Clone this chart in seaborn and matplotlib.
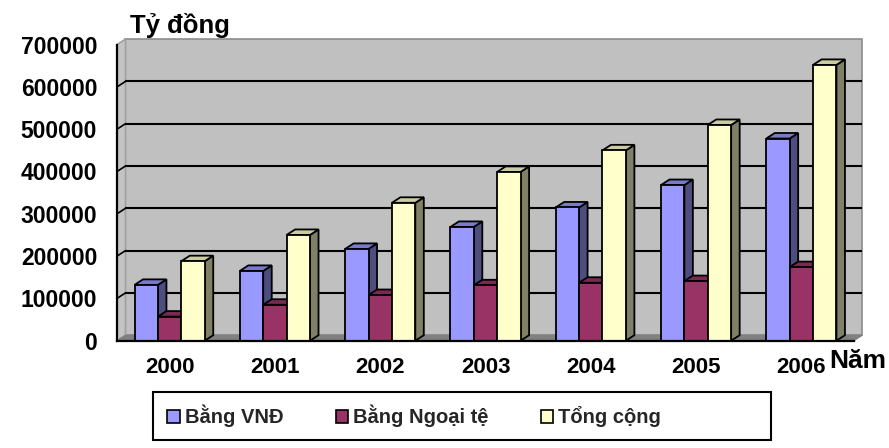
import numpy as np
import pandas as pd
import matplotlib
matplotlib.use("Agg")
import matplotlib.pyplot as plt
import matplotlib.colors as mcolors
from matplotlib.patches import Polygon, Patch, Rectangle
import seaborn as sns

# Dư nợ tín dụng theo loại tiền (tỷ đồng)
years = ["2000", "2001", "2002", "2003", "2004", "2005", "2006"]
vnd = [132000, 165000, 217000, 269000, 315000, 368000, 478000]
ngoai_te = [57000, 85000, 108000, 131000, 137000, 141000, 174000]
tong_cong = [188000, 250000, 326000, 399000, 450000, 510000, 652000]
series_names = ["Bằng VNĐ", "Bằng Ngoại tệ", "Tổng cộng"]
y_ticks = [0, 100000, 200000, 300000, 400000, 500000, 600000, 700000]

front_colors = ["#9999FF", "#993366", "#FFFFCC"]
side_colors = ["#4D4D80", "#4D1A33", "#808066"]
top_colors = ["#7A7ACC", "#7A2952", "#CCCCA3"]

W, H, DPI = 889, 448, 100
DX, DY = 8.5, 5.5          # chiều sâu giả 3D (pixel)
Y_MAX = 700000

sns.set_theme(style="white")
plt.rcParams["font.family"] = ["Liberation Sans", "DejaVu Sans"]
plt.rcParams["font.weight"] = "bold"

fig = plt.figure(figsize=(W / DPI, H / DPI), dpi=DPI)
fig.patch.set_facecolor("white")
ax = fig.add_axes([117 / W, (H - 340.7) / H, (854 - 117) / W, (340.7 - 44.6) / H])

df = pd.DataFrame({
    "Năm": years * 3,
    "Giá trị": vnd + ngoai_te + tong_cong,
    "Loại": [n for n in series_names for _ in years],
})
sns.barplot(data=df, x="Năm", y="Giá trị", hue="Loại", hue_order=series_names,
            palette=front_colors, saturation=1, width=2 / 3, gap=0,
            errorbar=None, edgecolor="black", linewidth=1.3,
            legend=False, ax=ax)

# các cột do seaborn vẽ
bars = sorted([p for p in ax.patches if isinstance(p, Rectangle) and p.get_height() > 0],
              key=lambda p: p.get_x())

ax.set_xlim(-0.5, len(years) - 0.5)
ax.set_ylim(0, Y_MAX)
ax.patch.set_visible(False)
ax.set_xlabel("")
ax.set_ylabel("")


def back(xd, yd):
    """Điểm tương ứng trên mặt phẳng phía sau."""
    px, py = ax.transData.transform((xd, yd))
    return tuple(ax.transData.inverted().transform((px + DX, py + DY)))


x0, x1 = -0.5, len(years) - 0.5

# Tường sau
ax.add_patch(Polygon([back(x0, 0), back(x1, 0), back(x1, Y_MAX), back(x0, Y_MAX)],
                     closed=True, facecolor="#C0C0C0", edgecolor="#8C8C8C",
                     linewidth=1.2, zorder=0.5, clip_on=False))
# Tường bên trái
ax.add_patch(Polygon([(x0, 0), back(x0, 0), back(x0, Y_MAX), (x0, Y_MAX)],
                     closed=True, facecolor="#C4C4C4", edgecolor="#A0A0A0",
                     linewidth=1.2, zorder=0.6, clip_on=False))
# Sàn
ax.add_patch(Polygon([(x0, 0), (x1, 0), back(x1, 0), back(x0, 0)],
                     closed=True, facecolor="#808080", edgecolor="#808080",
                     linewidth=0.8, zorder=0.7, clip_on=False))

# Đường lưới trên tường sau và tường bên
for v in y_ticks[1:-1]:
    bx0, by0 = back(x0, v)
    bx1, by1 = back(x1, v)
    ax.plot([bx0, bx1], [by0, by1], color="black", lw=1.5, zorder=0.8,
            clip_on=False, solid_capstyle="butt")
    ax.plot([x0, bx0], [v, by0], color="black", lw=1.2, zorder=0.8,
            clip_on=False)

# Mặt bên và mặt trên của cột
front_upper = [c.upper() for c in front_colors]
for i, p in enumerate(bars):
    fc = mcolors.to_hex(p.get_facecolor()).upper()
    k = front_upper.index(fc)
    xl, w, h = p.get_x(), p.get_width(), p.get_height()
    xr = xl + w
    base = 2 + 3 * i
    side = Polygon([(xr, 0), back(xr, 0), back(xr, h), (xr, h)], closed=True,
                   facecolor=side_colors[k], edgecolor="black", linewidth=1.3,
                   joinstyle="miter", zorder=base, clip_on=False)
    top = Polygon([(xl, h), (xr, h), back(xr, h), back(xl, h)], closed=True,
                  facecolor=top_colors[k], edgecolor="black", linewidth=1.3,
                  joinstyle="miter", zorder=base + 1, clip_on=False)
    ax.add_patch(side)
    ax.add_patch(top)
    p.set_zorder(base + 2)
    p.set_clip_on(False)

# Trục
for s in ["top", "right"]:
    ax.spines[s].set_visible(False)
for s in ["left", "bottom"]:
    ax.spines[s].set_color("black")
    ax.spines[s].set_linewidth(1.6)
    ax.spines[s].set_zorder(100)

ax.set_yticks(y_ticks, labels=[str(v) for v in y_ticks])
ax.set_xticks(np.arange(x0, x1 + 0.01, 1.0), labels=[""] * (len(years) + 1))
ax.set_xticks(range(len(years)), labels=years, minor=True)
ax.tick_params(axis="y", which="major", direction="out", length=3.8, width=1.4,
               color="black", pad=10.5, labelsize=16.5, labelcolor="black")
ax.tick_params(axis="x", which="major", direction="out", length=4.5, width=1.4,
               color="black")
ax.tick_params(axis="x", which="minor", length=0, pad=12, labelsize=16,
               labelcolor="black")
for lab in ax.get_yticklabels() + ax.get_xticklabels(minor=True):
    lab.set_fontweight("bold")

fig.text(130 / W, 1 - 26 / H, "Tỷ đồng", ha="left", va="center",
         fontsize=18.5, fontweight="bold", color="black")
fig.text(829 / W, 1 - 361 / H, "Năm", ha="left", va="center",
         fontsize=19, fontweight="bold", color="black")

# Chú thích: khung riêng, các mục căn theo lề trái
fig.patches.append(Rectangle((153 / W, 1 - 440 / H), (771 - 153) / W, 48 / H,
                             transform=fig.transFigure, facecolor="white",
                             edgecolor="black", linewidth=1.5, zorder=0))
handles = [Patch(facecolor=c, edgecolor="black", linewidth=1.2) for c in front_colors]
leg = fig.legend(handles, series_names, loc="center left",
                 bbox_to_anchor=(163 / W, 1 - 416 / H), ncol=3,
                 frameon=False, prop={"size": 14.5, "weight": "bold"},
                 handlelength=0.62, handleheight=0.62, handletextpad=0.25,
                 columnspacing=2.6, borderpad=0.2, borderaxespad=0)

fig.savefig("out.png", dpi=DPI, facecolor="white")
